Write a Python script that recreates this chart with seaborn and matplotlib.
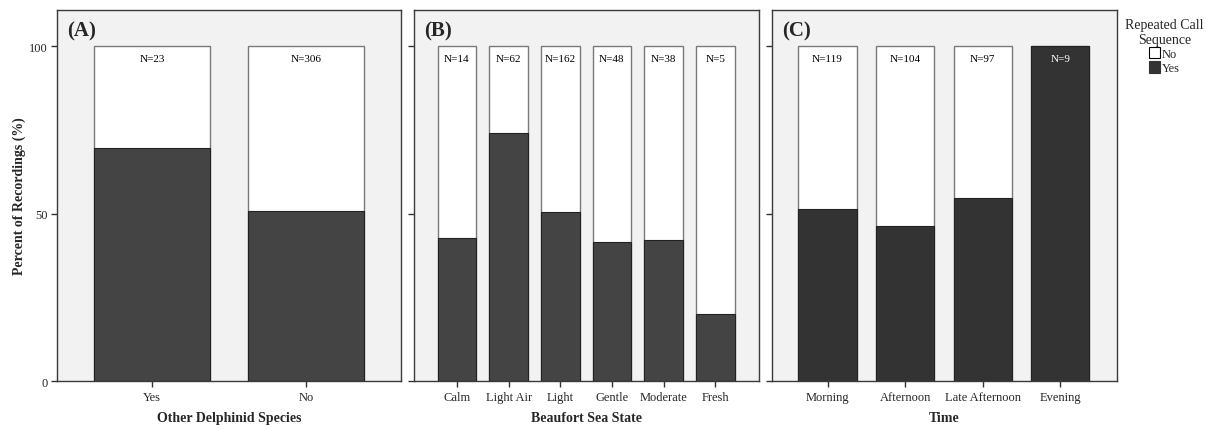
import matplotlib
matplotlib.use("Agg")
import matplotlib.pyplot as plt
import seaborn as sns
import pandas as pd
from matplotlib.patches import Patch

# ---- data ----
cats_a = ["Yes", "No"]
yes_a = [69.6, 50.7]
n_a = [23, 306]

cats_b = ["Calm", "Light Air", "Light", "Gentle", "Moderate", "Fresh"]
yes_b = [42.9, 74.2, 50.6, 41.7, 42.1, 20.0]
n_b = [14, 62, 162, 48, 38, 5]

cats_c = ["Morning", "Afternoon", "Late Afternoon", "Evening"]
yes_c = [51.3, 46.2, 54.6, 100.0]
n_c = [119, 104, 97, 9]

xlabels = ["Other Delphinid Species", "Beaufort Sea State", "Time"]
letters = ["(A)", "(B)", "(C)"]
ylabel = "Percent of Recordings (%)"
legend_title = "Repeated Call\nSequence"
legend_labels = ["No", "Yes"]

sns.set_theme(style="white")
plt.rcParams["font.family"] = ["Liberation Serif", "DejaVu Serif"]

W, H = 1213, 427
fig = plt.figure(figsize=(W / 100, H / 100), dpi=100)

boxes = [(57, 401), (414, 758.7), (771.7, 1117.3)]
top_px, bot_px = 10.7, 382.3
xlims = [(-0.617, 1.617), (-0.83, 5.84), (-0.72, 3.735)]
darks = ["#444444", "#444444", "#333333"]
panels = [(cats_a, yes_a, n_a), (cats_b, yes_b, n_b), (cats_c, yes_c, n_c)]

for i, ((cats, yes, ns), (l, r)) in enumerate(zip(panels, boxes)):
    ax = fig.add_axes([l / W, (H - bot_px) / H, (r - l) / W, (bot_px - top_px) / H])
    ax.set_facecolor("#f2f2f2")
    df = pd.DataFrame({"cat": cats, "total": [100.0] * len(cats), "yes": yes})
    sns.barplot(data=df, x="cat", y="total", color="white", width=0.75,
                edgecolor="#7a7a7a", linewidth=1, saturation=1, ax=ax)
    sns.barplot(data=df, x="cat", y="yes", color=darks[i], width=0.75,
                edgecolor="#222222", linewidth=0.8, saturation=1, ax=ax)
    ax.set_xlim(*xlims[i])
    ax.set_ylim(0, 110.9)
    ax.set_yticks([0, 50, 100])
    if i == 0:
        ax.set_yticklabels(["0", "50", "100"], fontsize=9)
        ax.set_ylabel(ylabel, fontsize=10, fontweight="bold", labelpad=2)
    else:
        ax.set_yticklabels([])
        ax.set_ylabel("")
    ax.tick_params(axis="both", direction="out", length=4, width=1,
                   color="#333333", labelsize=9, pad=3, left=True, bottom=True)
    ax.set_xlabel(xlabels[i], fontsize=10, fontweight="bold", labelpad=6)
    for sp in ax.spines.values():
        sp.set_visible(True)
        sp.set_color("#3a3a3a")
        sp.set_linewidth(1)
    for j, n in enumerate(ns):
        col = "white" if yes[j] >= 99 else "black"
        ax.text(j, 96.2, f"N={n}", ha="center", va="center", fontsize=8, color=col)
    ax.text(0.03, 0.97, letters[i], transform=ax.transAxes, ha="left", va="top",
            fontsize=15, fontweight="bold")

handles = [Patch(facecolor="white", edgecolor="black", linewidth=0.8),
           Patch(facecolor="#333333", edgecolor="#333333", linewidth=0.8)]
leg = fig.legend(handles, legend_labels, title=legend_title, loc="upper left",
                 bbox_to_anchor=(1120 / W, 1 - 14 / H), frameon=False, fontsize=9,
                 title_fontsize=10, handlelength=0.85, handleheight=1.0,
                 handletextpad=0.15, labelspacing=0.1, borderaxespad=0)
leg.get_title().set_multialignment("center")

fig.savefig("out.png", dpi=100)
